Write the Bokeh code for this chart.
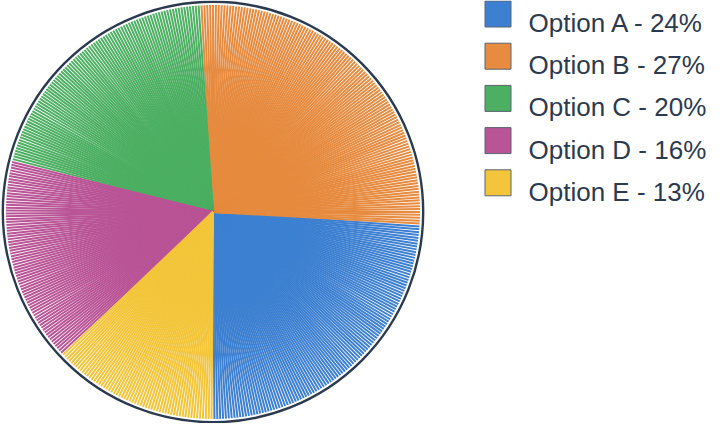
import math
from bokeh.plotting import figure
from bokeh.models import Range1d, ColumnDataSource
from bokeh.core.properties import value
from bokeh.embed import file_html
from bokeh.resources import INLINE

# ---- data ----
categories = ["Option A", "Option B", "Option C", "Option D", "Option E"]
percents = [24, 27, 20, 16, 13]
colors = ["#3d80d1", "#e68b3f", "#4caf62", "#b95496", "#f3c53a"]

# page has an 8px margin: 724x439 window -> 708x423 figure
W, H = 708, 423
p = figure(width=W, height=H, output_backend="svg", toolbar_location=None,
           x_range=Range1d(0, W), y_range=Range1d(0, H), min_border=0)
p.axis.visible = False
p.grid.visible = False
p.outline_line_color = None
p.background_fill_color = "white"

# pie geometry (pixels == data units)
cx, cy = 212.5, 211.5
R = 207
step_target = math.radians(0.8)
start = -math.pi / 2  # start at bottom, counter-clockwise

x0, y0, x1, y1, cols = [], [], [], [], []
total = sum(percents)
a = start
for pct, col in zip(percents, colors):
    span = 2 * math.pi * pct / total
    n = max(1, round(span / step_target))
    st = span / n
    for k in range(n):
        th = a + (k + 0.5) * st
        x0.append(cx); y0.append(cy)
        x1.append(cx + R * math.cos(th)); y1.append(cy + R * math.sin(th))
        cols.append(col)
    a += span

src = ColumnDataSource(dict(x0=x0, y0=y0, x1=x1, y1=y1, c=cols))
p.segment("x0", "y0", "x1", "y1", source=src, line_color="c", line_width=2.0,
          line_cap="butt")

# outline ring
p.circle(x=[cx], y=[cy], radius=R + 3.2, fill_color=None,
         line_color="#2c3a4f", line_width=2.4)

# legend
labels = [f"{c} - {v}%" for c, v in zip(categories, percents)]
row_gap = 42.2
sq_x = 497.5
sq_y = [H - 13.5 - row_gap * i for i in range(len(categories))]
tx = 528
ty = [H - 22.5 - row_gap * i for i in range(len(categories))]

p.rect(x=[sq_x] * len(categories), y=sq_y, width=26, height=26,
       fill_color=colors, line_color="#5b6473", line_width=1)
p.text(x=[tx] * len(categories), y=ty, text=labels,
       text_font=value("Liberation Sans"), text_font_size="26px",
       text_color="#2c3a4f", text_baseline="alphabetic", text_align="left")

open("out.html", "w").write(file_html(p, INLINE))
